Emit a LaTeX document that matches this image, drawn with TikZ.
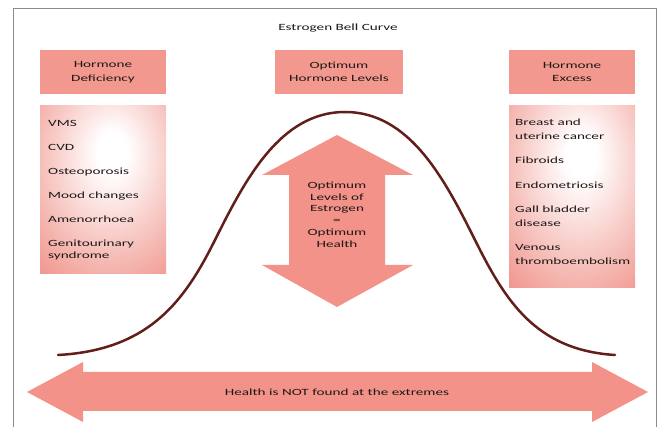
\documentclass[tikz,border=0pt]{standalone}
\usepackage{fontspec}
\setmainfont[FakeStretch=1.6]{Carlito}

\definecolor{headfill}{RGB}{243,152,142}
\definecolor{arrowfill}{RGB}{242,146,136}
\definecolor{boxedge}{RGB}{238,136,126}
\definecolor{curvecol}{RGB}{98,30,24}
\definecolor{framecol}{RGB}{140,140,140}
\definecolor{inkcol}{RGB}{30,24,24}

% soft white glow in the middle of the list panels
\pgfdeclareradialshading{panelglow}{\pgfpoint{4bp}{12bp}}{%
  color(0bp)=(white); color(6bp)=(white);
  color(24bp)=(boxedge!45!white); color(47bp)=(boxedge);
  color(100bp)=(boxedge)}

\tikzset{
  txt/.style={font=\fontsize{9.5}{12}\selectfont, text=inkcol, inner sep=0pt},
  headbox/.style={txt, fill=headfill, minimum width=126pt, minimum height=44pt,
    align=center, font=\fontsize{9.5}{13.5}\selectfont},
  panel/.style={shading=panelglow, minimum width=126pt, inner sep=0pt},
  listtext/.style={txt, align=left, anchor=north west},
  arrowshape/.style={fill=arrowfill},
  bell/.style={draw=curvecol, line width=2.5pt, line cap=round},
}

\begin{document}
\begin{tikzpicture}[x=1pt, y=-1pt]
\useasboundingbox (0,0) rectangle (659,427);

% outer frame
\draw[framecol, line width=0.8pt] (13,440) -- (13,8.5) -- (656,8.5) -- (656,440);
\draw[framecol, line width=1.8pt] (13,8.5) -- (656,8.5);

% title
\node[txt] (title) at (338,28) {Estrogen Bell Curve};

% column headings
\node[headbox] (defhead) at (103,72) {Hormone\\Deficiency};
\node[headbox, minimum width=128pt] (opthead) at (339,72) {Optimum\\Hormone Levels};
\node[headbox] (exhead) at (572,72) {Hormone\\Excess};

% list panels
\node[panel, minimum height=168pt] (deflist) at (103,190) {};
\node[panel, minimum height=182pt] (exlist) at (572,197) {};

\node[listtext] (deftext) at (48,117) {\rule{0pt}{9pt}VMS\\[12pt]
  CVD\\[12pt]
  Osteoporosis\\[12pt]
  Mood changes\\[12pt]
  Amenorrhoea\\[12pt]
  Genitourinary\\syndrome};

\node[listtext, font=\fontsize{9.5}{13.5}\selectfont] (extext) at (515,116.5)
  {\rule{0pt}{9pt}Breast and\\uterine cancer\\[11pt]
  Fibroids\\[11pt]
  Endometriosis\\[11pt]
  Gall bladder\\disease\\[11pt]
  Venous\\thromboembolism};

% vertical double arrow
\fill[arrowshape] (337,135) -- (413,175) -- (385,175) -- (385,265) -- (413,265)
  -- (337,307) -- (262,265) -- (289,265) -- (289,175) -- (262,175) -- cycle;
\node[txt, align=center, font=\fontsize{9.5}{11.8}\selectfont] (optimum) at (337,214.5)
  {Optimum\\Levels of\\Estrogen\\=\\Optimum\\Health};

% horizontal double arrow
\fill[arrowshape] (27,392) -- (83,362) -- (83,372) -- (592,372) -- (592,362)
  -- (648,392) -- (592,422) -- (592,411) -- (83,411) -- (83,422) -- cycle;
\node[txt] (extremes) at (337,392) {Health is NOT found at the extremes};

% bell curve
\draw[bell] (58,355) .. controls (150,350) and (185,300) .. (215,240)
  .. controls (245,180) and (280,112) .. (345,112)
  .. controls (410,112) and (445,180) .. (475,240)
  .. controls (505,300) and (535,350) .. (615,355);
\end{tikzpicture}
\end{document}
